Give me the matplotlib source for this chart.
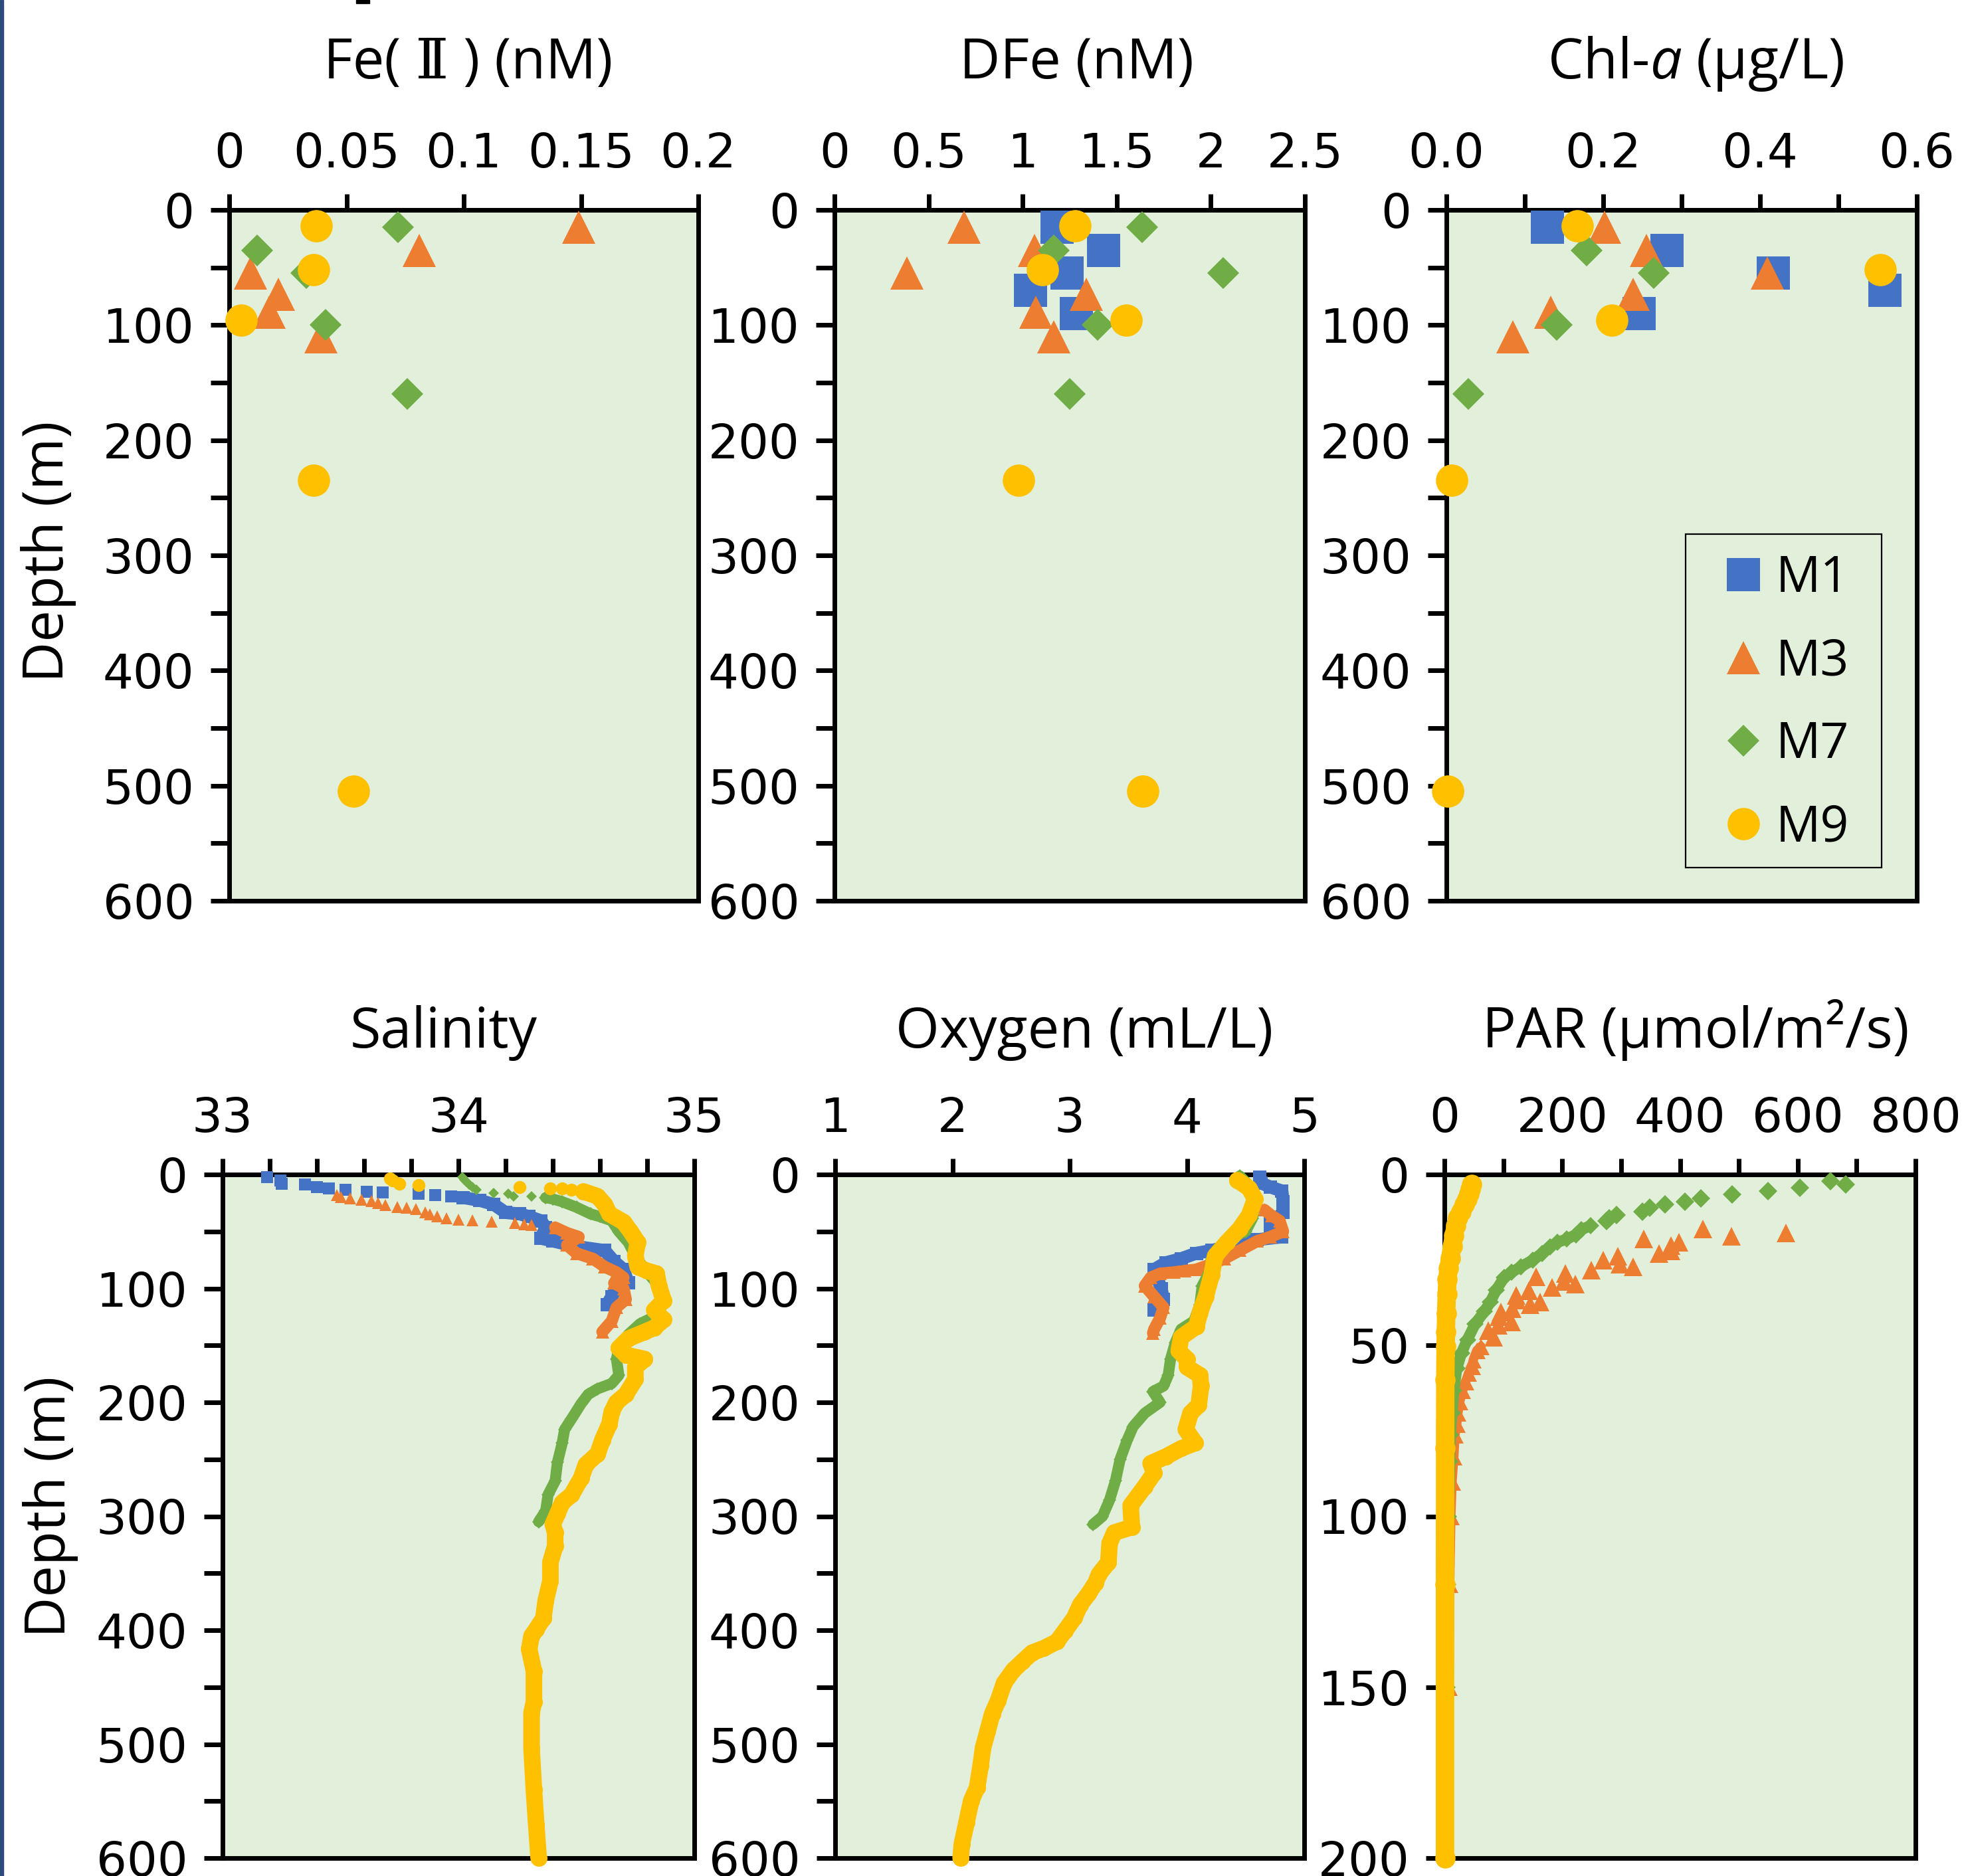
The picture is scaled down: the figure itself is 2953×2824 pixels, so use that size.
import numpy as np
import matplotlib
matplotlib.use("Agg")
import matplotlib.pyplot as plt
from matplotlib.patches import Rectangle

plt.rcParams['mathtext.fontset'] = 'custom'
plt.rcParams['mathtext.it'] = 'Open Sans:italic'
plt.rcParams['mathtext.rm'] = 'Open Sans'

# ---------------- bottle samples (top row) ----------------
m1_depth = [15, 35, 55, 70, 90]
m3_depth = [15, 35, 55, 73, 89, 110]
m7_depth = [15, 35, 55, 100, 160]
m9_depth = [14, 52, 96, 235, 505]

fe2_m3 = [0.149, 0.081, 0.009, 0.021, 0.017, 0.039]
fe2_m7 = [0.072, 0.012, 0.033, 0.041, 0.076]
fe2_m9 = [0.037, 0.036, 0.005, 0.036, 0.053]

dfe_m1 = [1.183, 1.431, 1.235, 1.04, 1.287]
dfe_m3 = [0.69, 1.064, 0.384, 1.34, 1.07, 1.166]
dfe_m7 = [1.634, 1.166, 2.067, 1.399, 1.25]
dfe_m9 = [1.277, 1.106, 1.55, 0.978, 1.639]

chl_m1 = [0.129, 0.2815, 0.417, 0.559, 0.246]
chl_m3 = [0.202, 0.2555, 0.409, 0.238, 0.133, 0.0845]
chl_m7 = [np.nan, 0.179, 0.264, 0.141, 0.028]
chl_m9 = [0.167, 0.553, 0.211, 0.0065, 0.002]

# ---------------- CTD profiles (bottom row) ----------------
# salinity: sparse near-surface points (markers only) + continuous part
sal_m1_top = [33.19, 33.245, 33.25, 33.35, 33.40, 33.45, 33.52, 33.61, 33.68, 33.83, 33.90, 33.97]
sal_m1_top_d = [2.5, 5, 8, 9, 10.8, 12, 13.2, 14.9, 15.6, 16.8, 18, 19.1]
sal_m1 = [34.02, 34.09, 34.15, 34.20, 34.26, 34.30, 34.35, 34.37, 34.35, 34.40, 34.50, 34.62,
          34.66, 34.70, 34.72, 34.67, 34.65, 34.63]
sal_m1_d = [20.3, 22.7, 26.3, 33.4, 34.6, 37, 40.6, 46.5, 56, 58.4, 63.2, 66.7,
            76.3, 83.4, 95.3, 100, 107, 114.3]

sal_m3_top = [33.485, 33.50, 33.54, 33.59, 33.63, 33.66, 33.69, 33.74, 33.78, 33.82, 33.86, 33.88,
              33.91, 33.95, 34.00, 34.06, 34.14, 34.24, 34.28, 34.31]
sal_m3_top_d = [18, 20, 21, 22.2, 23.4, 25.1, 26.8, 28.7, 29.4, 30.6, 33.4, 35,
                37, 38.2, 39.4, 40.1, 41.3, 42.5, 43.5, 44.1]
sal_m3 = [34.41, 34.46, 34.51, 34.46, 34.50, 34.57, 34.62, 34.67, 34.70, 34.66, 34.70, 34.71,
          34.67, 34.65, 34.61]
sal_m3_d = [46.5, 51.3, 54.8, 62, 69.1, 73.9, 81, 85.8, 90.5, 95.3, 100, 109.6,
            116.7, 128.6, 138.1]

sal_m7_top = [34.017, 34.025, 34.035, 34.045, 34.06, 34.075, 34.15, 34.21, 34.235, 34.31]
sal_m7_top_d = [2.5, 4.5, 6.5, 8.5, 11, 13.5, 16.3, 16.8, 19, 19.3]
sal_m7 = [34.37, 34.40, 34.44, 34.50, 34.56, 34.60, 34.65, 34.68, 34.72, 34.75, 34.79, 34.83,
          34.86, 34.855, 34.84, 34.77, 34.72, 34.68, 34.67, 34.68, 34.65, 34.59, 34.55, 34.52,
          34.48, 34.45, 34.44, 34.42, 34.41, 34.38, 34.37, 34.34]
sal_m7_d = [20.3, 21.5, 23.9, 28.7, 34.6, 37, 40.6, 50.1, 59.6, 71.5, 83.4, 93,
            103.6, 115, 123.9, 131, 140.5, 152.4, 162, 176.2, 183.4, 188.1, 193, 201.2,
            214.3, 223.8, 235.7, 252.4, 269, 281, 295.2, 304.7]

sal_m9_top = [33.71, 33.72, 33.75, 33.83, 34.26, 34.39, 34.44, 34.48]
sal_m9_top_d = [3.7, 5.5, 8.4, 9.6, 10.8, 12, 12.5, 13.4]
sal_m9 = [34.53, 34.59, 34.62, 34.64, 34.70, 34.73, 34.76, 34.75, 34.76, 34.80, 34.84, 34.85,
          34.87, 34.83, 34.87, 34.83, 34.79, 34.72, 34.68, 34.71, 34.79, 34.75, 34.75, 34.71,
          34.67, 34.65, 34.64, 34.61, 34.59, 34.54, 34.52, 34.48, 34.44, 34.42, 34.40, 34.41,
          34.41, 34.39, 34.39, 34.37, 34.36, 34.33, 34.31, 34.30, 34.32, 34.32, 34.31, 34.31,
          34.32, 34.33, 34.34]
sal_m9_d = [14.9, 19.1, 26.3, 34.6, 41.7, 50.1, 59.6, 71.5, 81, 84.6, 87, 97.7,
            110.8, 119.1, 127.4, 134.6, 138.1, 144.1, 152.4, 158.4, 162, 169.1, 179.8, 193,
            200, 208.3, 219, 233.3, 245.2, 254.7, 266.6, 281, 288, 297.6, 307.1, 314.3,
            326.1, 340.4, 356.7, 374.1, 389.5, 399.2, 405, 416.6, 435.9, 462.9, 472.6, 503.5,
            540.2, 571.1, 600]

# oxygen
oxy_m1 = [4.62, 4.63, 4.71, 4.81, 4.82, 4.82, 4.71, 4.71, 4.81, 4.60, 4.39, 4.21,
          4.08, 3.95, 3.82, 3.72, 3.78, 3.80, 3.72]
oxy_m1_d = [2.5, 7.3, 11, 14.4, 24, 33.4, 43, 50, 54.8, 57.2, 62, 66.7,
            69.1, 73.9, 77.4, 83.4, 100, 109.6, 119.1]

oxy_m3 = [4.66, 4.72, 4.79, 4.82, 4.71, 4.60, 4.45, 4.32, 4.21, 4.08, 3.98, 3.89,
          3.77, 3.69, 3.64, 3.72, 3.80, 3.77, 3.72, 3.71]
oxy_m3_d = [31, 36, 40.6, 50, 54.8, 58.4, 66.7, 73.9, 78.6, 83.4, 84.6, 85.8,
            87, 90.5, 97.7, 107.2, 116.7, 126.2, 135.8, 139.3]

oxy_m7 = [4.45, 4.53, 4.58, 4.56, 4.50, 4.39, 4.32, 4.21, 4.19, 4.13, 4.11, 4.06,
          3.95, 3.90, 3.86, 3.84, 3.80, 3.71, 3.77, 3.64, 3.54, 3.49, 3.43, 3.39,
          3.34, 3.28, 3.20]
oxy_m7_d = [1.3, 9.6, 24, 38.2, 50, 54.8, 64.4, 73.9, 85.8, 97.7, 114.3, 128.6,
            135.8, 147.6, 162, 176.2, 185.7, 190.5, 200, 209.5, 221.4, 233.3, 250, 269,
            285.7, 300, 307]

oxy_m9 = [4.43, 4.53, 4.58, 4.53, 4.45, 4.34, 4.24, 4.21, 4.16, 4.11, 4.08, 3.95,
          3.93, 4.00, 4.00, 4.11, 4.12, 4.10, 4.03, 3.99, 4.07, 3.95, 3.82, 3.69,
          3.72, 3.64, 3.52, 3.53, 3.38, 3.34, 3.33, 3.25, 3.22, 3.16, 3.09, 3.04,
          2.96, 2.89, 2.78, 2.68, 2.60, 2.52, 2.44, 2.39, 2.34, 2.30, 2.26, 2.24,
          2.21, 2.16, 2.12, 2.08, 2.07]
oxy_m9_d = [5, 12, 21.5, 35.8, 47.7, 59.6, 71.5, 88.2, 107.2, 121.4, 133.4, 142.9,
            154.8, 162, 169.1, 176.2, 185.7, 202.4, 209.5, 223.8, 235.7, 240.5, 247.6, 253.6,
            262, 273.9, 290.5, 309.5, 314.3, 323.8, 340.4, 350.8, 358.5, 368.1, 377.6, 389.1,
            400.5, 410.1, 415.8, 419.7, 427.3, 435, 446.4, 461.7, 473.2, 488.5, 503.8, 519.1,
            538.2, 549.7, 568.8, 587.9, 600]

# PAR
par_m3_top = [580, 487, 439, 398, 385, 385, 364, 338, 320, 298, 295, 270, 249, 222, 205,
              203, 183, 156, 143, 162, 146, 122, 123, 115, 96, 93, 114, 91, 75, 83]
par_m3_top_d = [17.1, 18.1, 15.9, 19.8, 20.8, 22.4, 23.1, 18.9, 27, 26.3, 24, 25, 27.9, 32.1, 28.9,
                31.2, 33.1, 30, 34.1, 37.3, 38, 35.4, 36.7, 39.3, 40.2, 41.5, 43.1, 44.1, 45.7, 47.7]
par_m3 = [62, 55, 49, 47, 41, 36, 31, 26, 23, 21, 18, 16, 13, 11, 9, 8]
par_m3_d = [50.3, 51.5, 54.2, 56.1, 58.1, 60.6, 63.2, 66.5, 69.7, 73, 76.2, 82.7, 90, 100, 120, 150]

par_m7_top = [682, 656, 604, 549, 489, 435, 409, 375, 349, 336, 292, 280, 275]
par_m7_top_d = [2.85, 2.0, 3.95, 4.9, 5.9, 6.9, 7.9, 8.8, 9.8, 10.8, 11.9, 12.8, 13.7]
par_m7 = [248, 233, 223, 208, 192, 179, 166, 150, 130, 114, 101, 88, 78, 68, 52, 39,
          29, 21, 16, 13, 10, 9, 7, 6, 5]
par_m7_d = [15.0, 16.1, 17.6, 18.9, 19.8, 21.1, 23.1, 25.0, 27, 28.6, 30.2, 33.8, 37.3, 40, 43.8, 48.3,
            52.2, 56.8, 63.2, 69.7, 76.2, 83.9, 100, 120, 150]

par_m9 = [46, 44, 42, 38, 34, 28, 23, 19, 16, 13, 10, 7, 5, 4, 3, 2.5, 2, 1.5, 1.2, 1, 1]
par_m9_d = [3.0, 4.2, 5.6, 7.2, 8.8, 10.8, 12.7, 15, 17.9, 21, 24.4, 27.5, 30.8, 35, 40.6, 46,
            50.3, 60, 80, 120, 200]

stations = ['M1', 'M3', 'M7', 'M9']

# ---------------- style ----------------
BG = '#E2EFDA'
C1, C3, C7, C9 = '#4472C4', '#ED7D31', '#70AD47', '#FFC000'
TITLE_FONT = ['Open Sans', 'DejaVu Sans']
TICK_SIZE = 52
TITLE_SIZE = 61

fig = plt.figure(figsize=(29.53, 28.24), dpi=100)
W, H = 2953, 2824


def add_ax(left, right, top, bottom):
    return fig.add_axes([left / W, 1 - bottom / H, (right - left) / W, (bottom - top) / H])


def style(ax, xlim, xticks, xlabels, xminor, ylim, yticks, yminor):
    ax.set_facecolor(BG)
    ax.set_xlim(*xlim)
    ax.set_ylim(ylim[1], ylim[0])
    ax.xaxis.tick_top()
    ax.set_xticks(xticks, xlabels)
    if xminor is not None:
        ax.set_xticks(xminor, minor=True)
    ax.set_yticks(yticks)
    if yminor is not None:
        ax.set_yticks(yminor, minor=True)
    for s in ax.spines.values():
        s.set_linewidth(5)
        s.set_color('black')
    ax.tick_params(axis='x', which='both', direction='out', length=17, width=5,
                   labelsize=TICK_SIZE, pad=18, top=True, bottom=False)
    ax.tick_params(axis='y', which='both', direction='out', length=20, width=5,
                   labelsize=TICK_SIZE, pad=18)


def title(ax, text, xc, yb, family=TITLE_FONT):
    ax.text(xc, yb, text, transform=ax.transAxes, ha='center', va='baseline',
            fontsize=TITLE_SIZE, family=family)


# top row
ax_fe = add_ax(345, 1051, 316, 1356)
ax_dfe = add_ax(1256, 1964, 316, 1356)
ax_chl = add_ax(2177, 2885, 316, 1356)
# bottom row
ax_sal = add_ax(335, 1045, 1768, 2797)
ax_oxy = add_ax(1257, 1963, 1768, 2797)
ax_par = add_ax(2174, 2883, 1768, 2797)

dep_major = np.arange(0, 601, 100)
dep_minor = np.arange(50, 600, 100)

style(ax_fe, (0, 0.2), [0, 0.05, 0.1, 0.15, 0.2], ['0', '0.05', '0.1', '0.15', '0.2'], None,
      (0, 600), dep_major, dep_minor)
style(ax_dfe, (0, 2.5), [0, 0.5, 1, 1.5, 2, 2.5], ['0', '0.5', '1', '1.5', '2', '2.5'], None,
      (0, 600), dep_major, dep_minor)
style(ax_chl, (0, 0.6), [0, 0.2, 0.4, 0.6], ['0.0', '0.2', '0.4', '0.6'], [0.1, 0.3, 0.5],
      (0, 600), dep_major, dep_minor)
style(ax_sal, (33, 35), [33, 34, 35], ['33', '34', '35'], np.arange(33.2, 35, 0.2),
      (0, 600), dep_major, dep_minor)
style(ax_oxy, (1, 5), [1, 2, 3, 4, 5], ['1', '2', '3', '4', '5'], None,
      (0, 600), dep_major, dep_minor)
style(ax_par, (0, 800), [0, 200, 400, 600, 800], ['0', '200', '400', '600', '800'],
      [100, 300, 500, 700], (0, 200), [0, 50, 100, 150, 200], None)

title(ax_fe, 'Fe( Ⅱ ) (nM)', 0.51, 1.19, family=['Open Sans', 'DejaVu Serif'])
title(ax_dfe, 'DFe (nM)', 0.515, 1.19)
title(ax_chl, r'Chl-$\mathit{a}$ (μg/L)', 0.53, 1.19)
title(ax_sal, 'Salinity', 0.468, 1.186)
title(ax_oxy, 'Oxygen (mL/L)', 0.532, 1.186)
title(ax_par, 'PAR (μmol/m²/s)', 0.534, 1.186)

fig.text(73 / W, 1 - 830 / H, 'Depth (m)', rotation=90, ha='center', va='center',
         fontsize=61, family=TITLE_FONT)
fig.text(76 / W, 1 - 2268 / H, 'Depth (m)', rotation=90, ha='center', va='center',
         fontsize=61, family=TITLE_FONT)

# ---- scatter markers, top row ----
big = dict(ls='none', mew=0, clip_on=False, zorder=3)
mk1 = dict(marker='s', ms=36, color=C1)
mk3 = dict(marker='^', ms=36, color=C3)
mk7 = dict(marker='D', ms=24.5, color=C7)
mk9 = dict(marker='o', ms=35, color=C9)

ax_fe.plot(fe2_m3, m3_depth, **mk3, **big)
ax_fe.plot(fe2_m7, m7_depth, **mk7, **big)
ax_fe.plot(fe2_m9, m9_depth, **mk9, **big)

ax_dfe.plot(dfe_m1, m1_depth, **mk1, **big)
ax_dfe.plot(dfe_m3, m3_depth, **mk3, **big)
ax_dfe.plot(dfe_m7, m7_depth, **mk7, **big)
ax_dfe.plot(dfe_m9, m9_depth, **mk9, **big)

h1, = ax_chl.plot(chl_m1, m1_depth, **mk1, **big)
h3, = ax_chl.plot(chl_m3, m3_depth, **mk3, **big)
h7, = ax_chl.plot(chl_m7, m7_depth, **mk7, **big)
h9, = ax_chl.plot(chl_m9, m9_depth, **mk9, **big)

leg = ax_chl.legend([h1, h3, h7, h9], stations, loc='upper left',
                    bbox_to_anchor=(0.562, 0.502), borderaxespad=0, borderpad=0,
                    frameon=False, handlelength=1.3, handletextpad=0.0,
                    labelspacing=0.67, prop={'family': TITLE_FONT, 'size': 54})
ax_chl.add_patch(Rectangle((0.508, 0.048), 0.417, 0.483, transform=ax_chl.transAxes,
                           fill=False, edgecolor='black', linewidth=1.6, zorder=5))


# ---- profiles, bottom row ----
def points(ax, x, d, color, marker, ms):
    ax.plot(x, d, ls='none', marker=marker, ms=ms, mew=0, color=color,
            clip_on=False, zorder=3)


def profile(ax, x, d, color, marker, ms, lw):
    ax.plot(x, d, ls='-', lw=lw, marker=marker, ms=ms, mew=0, color=color,
            solid_joinstyle='round', solid_capstyle='round', clip_on=False, zorder=3)


points(ax_sal, sal_m1_top, sal_m1_top_d, C1, 's', 13)
profile(ax_sal, sal_m1, sal_m1_d, C1, 's', 15, 14)
points(ax_sal, sal_m3_top, sal_m3_top_d, C3, '^', 13)
profile(ax_sal, sal_m3, sal_m3_d, C3, '^', 15, 13)
points(ax_sal, sal_m7_top, sal_m7_top_d, C7, 'D', 8)
profile(ax_sal, sal_m7, sal_m7_d, C7, 'D', 10, 12)
points(ax_sal, sal_m9_top, sal_m9_top_d, C9, 'o', 14)
profile(ax_sal, sal_m9, sal_m9_d, C9, 'o', 18, 18)

profile(ax_oxy, oxy_m1, oxy_m1_d, C1, 's', 15, 14)
profile(ax_oxy, oxy_m3, oxy_m3_d, C3, '^', 15, 13)
profile(ax_oxy, oxy_m7, oxy_m7_d, C7, 'D', 10, 12)
profile(ax_oxy, oxy_m9, oxy_m9_d, C9, 'o', 18, 18)

points(ax_par, par_m3_top, par_m3_top_d, C3, '^', 20)
profile(ax_par, par_m3, par_m3_d, C3, '^', 18, 10)
points(ax_par, par_m7_top, par_m7_top_d, C7, 'D', 14)
profile(ax_par, par_m7, par_m7_d, C7, 'D', 13, 12)
profile(ax_par, par_m9, par_m9_d, C9, 'o', 22, 20)

# left frame edge and clipped text fragment at the top
fig.patches.append(Rectangle((0, 0), 5 / W, 1, transform=fig.transFigure,
                             color='#2E4A7A', zorder=10))
fig.patches.append(Rectangle((536 / W, 1 - 5 / H), 20 / W, 5 / H, transform=fig.transFigure,
                             color='black', zorder=10))

fig.savefig('out.png', dpi=100)
